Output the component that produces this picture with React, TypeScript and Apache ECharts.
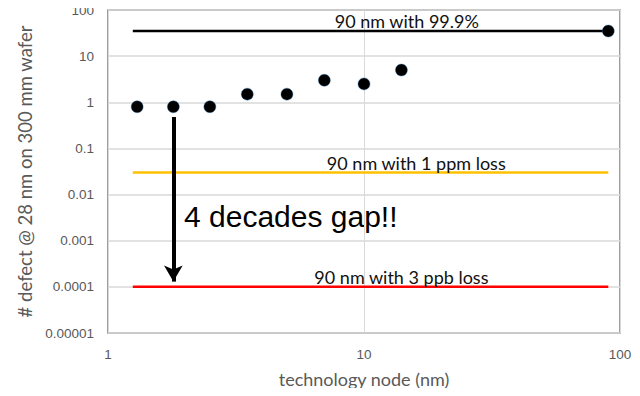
import React, { useEffect, useRef } from "react";
import * as echarts from "echarts";

// Defect counts per technology node (nm)
const nodeNm = [1.3, 1.8, 2.5, 3.5, 5, 7, 10, 14, 90];
const defects = [0.8, 0.8, 0.8, 1.5, 1.5, 3, 2.5, 5, 35];

// Reference levels for a 90 nm node
const refSpan = [1.25, 90];
const level999 = 35;
const level1ppm = 0.03;
const level3ppb = 0.0001;

// "4 decades gap" arrow endpoints
const gapNode = 1.8;
const gapFrom = 0.48;
const gapTo = 0.00013;

const yTickLabels = ["0.00001", "0.0001", "0.001", "0.01", "0.1", "1", "10", "100"];
const xTickLabels = ["1", "10", "100"];

const tickFont = "Liberation Sans";
const textFont = "Lato";

export default function App() {
  const ref = useRef<HTMLDivElement>(null);
  useEffect(() => {
    if (!ref.current) return;
    const chart = echarts.init(ref.current, null, { renderer: "svg" });
    const refLine = (name: string, y: number, color: string, text: string, labelX: number) => ({
      name,
      type: "line",
      data: refSpan.map((x) => [x, y]),
      symbol: "none",
      lineStyle: { color, width: 2.5 },
      z: 2,
      markPoint: {
        symbol: "circle",
        symbolSize: 0,
        data: [{ coord: [labelX, y] }],
        label: {
          show: true,
          formatter: text,
          position: "top",
          distance: 1,
          color: "#111",
          fontFamily: textFont,
          fontSize: 18,
        },
      },
    });
    chart.setOption({
      animation: false,
      grid: {
        left: 108,
        right: 20,
        top: 10,
        bottom: 63,
        show: true,
        borderColor: "#7f7f7f",
        borderWidth: 1.5,
      },
      xAxis: {
        type: "log",
        logBase: 10,
        min: 1,
        max: 100,
        axisLine: { show: false },
        axisTick: { show: false },
        splitLine: { show: true, lineStyle: { color: "#d9d9d9", width: 1 } },
        axisLabel: {
          color: "#595959",
          fontFamily: tickFont,
          fontSize: 13.5,
          margin: 14,
          formatter: (v: number) => xTickLabels[Math.round(Math.log10(v))],
        },
        name: "technology node (nm)",
        nameLocation: "middle",
        nameGap: 36,
        nameTextStyle: { color: "#595959", fontFamily: textFont, fontSize: 18, lineHeight: 20 },
      },
      yAxis: {
        type: "log",
        logBase: 10,
        min: 0.00001,
        max: 100,
        axisLine: { show: false },
        axisTick: { show: false },
        splitLine: { show: true, lineStyle: { color: "#d9d9d9", width: 1.5 } },
        axisLabel: {
          color: "#595959",
          fontFamily: tickFont,
          fontSize: 13.5,
          margin: 14,
          formatter: (v: number) => yTickLabels[Math.round(Math.log10(v)) + 5],
        },
        name: "# defect @ 28 nm on 300 mm wafer",
        nameLocation: "middle",
        nameGap: 72,
        nameTextStyle: { color: "#595959", fontFamily: textFont, fontSize: 18.5 },
      },
      graphic: [
        {
          type: "text",
          left: 184,
          top: 201,
          style: {
            text: "4 decades gap!!",
            fill: "#000",
            font: `30px "${tickFont}"`,
          },
        },
      ],
      series: [
        refLine("99.9%", level999, "#000000", "90 nm with 99.9%", 14.7),
        refLine("1 ppm", level1ppm, "#ffc000", "90 nm with 1 ppm loss", 16),
        refLine("3 ppb", level3ppb, "#ff0000", "90 nm with 3 ppb loss", 14),
        {
          name: "gap",
          type: "line",
          data: [],
          markLine: {
            silent: true,
            symbol: ["none", "arrow"],
            symbolSize: [14, 16],
            lineStyle: { color: "#000", width: 4, type: "solid" },
            label: { show: false },
            data: [[{ coord: [gapNode, gapFrom] }, { coord: [gapNode, gapTo] }]],
          },
        },
        {
          name: "defects",
          type: "scatter",
          data: nodeNm.map((x, i) => [x, defects[i]]),
          symbolSize: 12,
          itemStyle: { color: "#000", opacity: 1, borderColor: "#2e75b6", borderWidth: 0.4 },
          z: 5,
        },
      ],
    });
    return () => chart.dispose();
  }, []);
  return <div ref={ref} style={{ width: 640, height: 396, margin: -8 }} />;
}
